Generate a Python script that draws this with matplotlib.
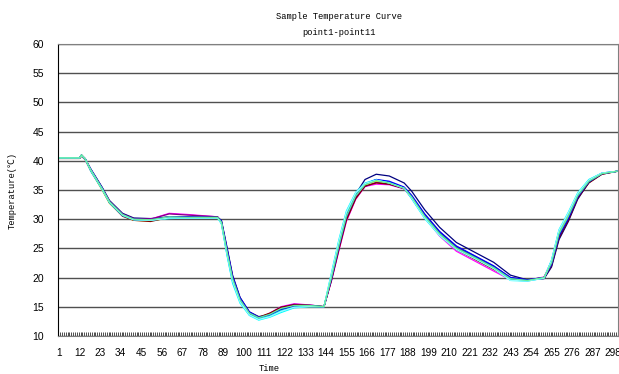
import matplotlib
matplotlib.use("Agg")
import matplotlib.pyplot as plt

TITLE = "Sample Temperature Curve"
SUBTITLE = "point1-point11"

T = [1, 12, 13, 15, 18, 24, 28, 35, 41, 50,
     60, 70, 86, 88, 91, 94, 98, 103, 108, 114,
     120, 127, 135, 143, 147, 151, 155, 160, 165, 171,
     178, 186, 190, 197, 205, 214, 224, 234, 243, 252,
     261, 265, 269, 274, 279, 285, 292, 300]

point1 = [40.5, 40.5, 40.9, 40.3, 38.6, 35.5, 33.2, 31.0, 30.2, 30.1,
          30.4, 30.3, 30.3, 29.8, 25.2, 20.4, 16.6, 14.1, 13.3, 13.6,
          14.5, 15.0, 15.1, 15.0, 19.6, 25.0, 30.2, 34.3, 36.8, 37.7,
          37.4, 36.2, 34.8, 31.6, 28.6, 26.0, 24.3, 22.6, 20.4, 19.6,
          19.8, 21.8, 26.5, 29.6, 33.4, 36.3, 37.8, 38.2]
point2 = [40.5, 40.5, 41.0, 40.2, 38.3, 35.1, 32.8, 30.6, 29.9, 30.0,
          31.0, 30.8, 30.4, 29.4, 24.2, 19.5, 16.0, 13.8, 13.0, 13.9,
          15.0, 15.5, 15.3, 15.0, 19.4, 24.6, 29.6, 33.4, 35.6, 36.0,
          35.9, 35.2, 33.6, 30.3, 27.1, 24.5, 22.8, 21.1, 19.6, 19.5,
          20.1, 22.8, 27.9, 30.8, 34.2, 36.6, 37.9, 38.2]
point3 = [40.5, 40.5, 41.0, 40.3, 38.3, 35.0, 32.7, 30.6, 29.8, 29.7,
          30.2, 30.3, 30.3, 29.5, 24.6, 19.9, 16.3, 14.0, 13.2, 13.8,
          14.8, 15.3, 15.2, 15.0, 20.1, 25.7, 30.6, 34.1, 35.9, 36.5,
          36.1, 35.3, 33.7, 30.4, 27.4, 24.9, 23.3, 21.6, 19.8, 19.5,
          20.0, 22.7, 27.6, 30.6, 34.1, 36.6, 37.8, 38.2]
point4 = [40.5, 40.5, 40.9, 40.3, 38.5, 35.2, 32.9, 30.7, 30.0, 29.8,
          30.1, 30.2, 30.2, 29.2, 23.8, 19.0, 15.6, 13.5, 12.7, 13.2,
          14.0, 14.8, 15.0, 15.0, 20.8, 26.5, 31.4, 34.6, 36.2, 36.8,
          36.3, 35.3, 33.5, 30.1, 27.2, 24.8, 23.2, 21.5, 19.5, 19.4,
          19.9, 23.0, 28.2, 31.2, 34.5, 36.8, 37.9, 38.2]
point5 = [40.5, 40.5, 41.0, 40.4, 38.5, 35.4, 33.1, 30.9, 30.1, 30.0,
          30.9, 30.7, 30.4, 29.6, 24.8, 20.1, 16.4, 14.0, 13.1, 13.8,
          14.9, 15.4, 15.3, 15.0, 19.8, 25.2, 30.2, 33.7, 35.6, 36.3,
          36.0, 35.2, 33.9, 30.8, 27.8, 25.3, 23.6, 21.9, 20.0, 19.6,
          20.0, 22.3, 27.0, 30.0, 33.7, 36.3, 37.7, 38.2]
point6 = [40.4, 40.4, 40.8, 40.2, 38.3, 35.2, 32.8, 30.5, 29.8, 29.6,
          30.3, 30.3, 30.3, 29.6, 24.7, 20.0, 16.3, 14.0, 13.2, 13.9,
          14.9, 15.3, 15.2, 15.0, 19.5, 24.8, 29.8, 33.5, 35.7, 36.2,
          36.0, 35.3, 33.8, 30.5, 27.4, 24.8, 23.1, 21.4, 19.8, 19.5,
          20.0, 22.0, 26.8, 29.8, 33.6, 36.2, 37.7, 38.2]
point7 = [40.5, 40.5, 41.0, 40.3, 38.4, 35.3, 32.9, 30.7, 29.9, 29.8,
          30.3, 30.3, 30.3, 29.5, 24.4, 19.7, 16.1, 13.8, 13.0, 13.5,
          14.5, 15.1, 15.2, 15.0, 20.0, 25.6, 30.7, 34.2, 36.0, 36.7,
          36.3, 35.4, 33.9, 30.6, 27.6, 25.1, 23.5, 21.8, 19.9, 19.5,
          20.0, 22.4, 27.3, 30.3, 33.9, 36.4, 37.8, 38.2]
point8 = [40.5, 40.5, 40.9, 40.3, 38.5, 35.4, 33.0, 30.8, 30.0, 29.9,
          30.4, 30.4, 30.3, 29.7, 25.0, 20.2, 16.5, 14.1, 13.2, 13.6,
          14.6, 15.1, 15.1, 15.0, 19.8, 25.3, 30.4, 34.0, 36.0, 36.8,
          36.5, 35.5, 34.1, 30.9, 27.9, 25.4, 23.7, 22.0, 20.0, 19.6,
          20.0, 22.2, 27.1, 30.1, 33.8, 36.4, 37.8, 38.2]
point9 = [40.5, 40.5, 41.0, 40.3, 38.2, 35.1, 32.8, 30.6, 29.9, 29.8,
          30.2, 30.2, 30.2, 29.3, 24.0, 19.3, 15.9, 13.6, 12.9, 13.4,
          14.3, 14.9, 15.1, 15.0, 20.5, 26.2, 31.1, 34.4, 36.1, 36.7,
          36.2, 35.3, 33.6, 30.3, 27.3, 24.9, 23.3, 21.6, 19.6, 19.4,
          19.9, 22.9, 28.0, 31.0, 34.3, 36.7, 37.9, 38.2]
point10 = [40.5, 40.5, 40.9, 40.3, 38.4, 35.2, 32.9, 30.7, 29.9, 29.8,
           30.2, 30.2, 30.2, 29.3, 24.1, 19.4, 15.8, 13.6, 12.8, 13.3,
           14.2, 14.9, 15.0, 15.0, 20.6, 26.3, 31.2, 34.5, 36.1, 36.7,
           36.2, 35.3, 33.6, 30.2, 27.2, 24.8, 23.2, 21.5, 19.5, 19.4,
           19.9, 22.9, 28.1, 31.1, 34.4, 36.7, 37.9, 38.2]
point11 = [40.5, 40.5, 41.0, 40.3, 38.4, 35.3, 33.0, 30.8, 30.0, 29.9,
           30.4, 30.3, 30.3, 29.5, 24.5, 19.8, 16.2, 13.9, 13.1, 13.7,
           14.7, 15.2, 15.2, 15.0, 20.0, 25.5, 30.5, 34.0, 35.9, 36.6,
           36.2, 35.3, 33.8, 30.5, 27.5, 25.0, 23.4, 21.7, 19.8, 19.5,
           20.0, 22.5, 27.5, 30.5, 34.0, 36.5, 37.8, 38.2]

series = [point1, point2, point3, point4, point5, point6,
          point7, point8, point9, point10, point11]
names = ["point%d" % (i + 1) for i in range(11)]
colors = ["#000080", "#FF00FF", "#FFFF00", "#00FFFF", "#800080", "#800000",
          "#008080", "#0000FF", "#00CCFF", "#99FFFF", "#66EE99"]

N = 300
xticks = list(range(1, N + 1, 11))

fam = ["Liberation Mono", "Noto Sans CJK SC", "DejaVu Sans"]

fig = plt.figure(figsize=(6.19, 3.74), dpi=100)
ax = fig.add_axes([0.094, 0.102, 0.904, 0.780])

for vals, name, c in zip(series, names, colors):
    ax.plot(T, vals, color=c, lw=0.9, label=name)

ax.set_xlim(0.5, N + 0.5)
ax.set_ylim(10, 60)
ax.set_yticks(range(10, 61, 5))
ax.set_xticks(xticks)
ax.set_xticks([i + 0.5 for i in range(N)], minor=True)
ax.grid(axis="y", color="#505050", lw=1.0)
ax.set_axisbelow(True)

for s in ["top", "right"]:
    ax.spines[s].set_color("#808080")
ax.spines["left"].set_color("black")
ax.spines["bottom"].set_color("#808080")

ax.tick_params(axis="x", which="major", length=0, pad=9, labelsize=7.2)
ax.tick_params(axis="x", which="minor", length=3, width=0.6, direction="in",
               color="#303030")
ax.tick_params(axis="y", length=0, pad=10, labelsize=7.5)
for lab in ax.get_xticklabels() + ax.get_yticklabels():
    lab.set_family("Liberation Sans")

fig.text(0.547, 0.957, TITLE, ha="center", va="center", fontsize=6.3, family=fam)
fig.text(0.547, 0.914, SUBTITLE, ha="center", va="center", fontsize=6.3, family=fam)
fig.text(0.434, 0.014, "Time", ha="center", va="center", fontsize=6.3, family=fam)
fig.text(0.020, 0.49, "Temperature(\u2103)", ha="center", va="center",
         rotation=90, fontsize=6.3, family=fam)

fig.savefig("out.png", dpi=100)
